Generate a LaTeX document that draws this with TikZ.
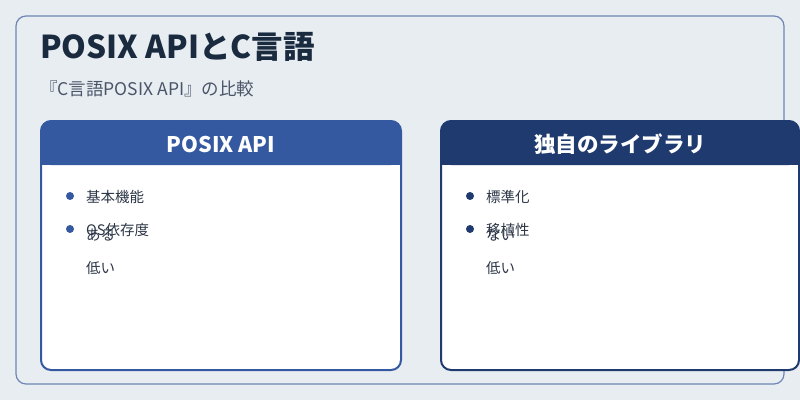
\documentclass[tikz,border=0pt]{standalone}
\usepackage{fontspec}
\setmainfont{Noto Sans CJK JP}
\definecolor{bg}{HTML}{E8EDF2}
\definecolor{frame}{HTML}{6F86B5}
\definecolor{blueA}{HTML}{3559A0}
\definecolor{blueB}{HTML}{1E3A6E}
\definecolor{txt}{HTML}{1A2A3F}
\definecolor{sub}{HTML}{4A5568}
\definecolor{body}{HTML}{2D3748}
\begin{document}
\begin{tikzpicture}[x=1pt,y=-1pt,
  lbl/.style={anchor=west,inner sep=0pt,font=\fontsize{14.5}{14.5}\selectfont,text=body},
  hdr/.style={font=\fontsize{21.5}{21.5}\selectfont\bfseries,text=white,inner sep=0pt}]
\useasboundingbox (0,0) rectangle (800,400);
\fill[bg] (0,0) rectangle (800,400);
\draw[frame,line width=1.2pt,rounded corners=10pt,fill=bg] (16,16) rectangle (784,384);
\node[anchor=west,inner sep=0pt,text=txt,font=\fontsize{31.5}{31.5}\selectfont\bfseries] (title) at (40,47) {POSIX APIとC言語};
\node[anchor=west,inner sep=0pt,text=sub,font=\fontsize{17.5}{17.5}\selectfont] (subt) at (40,89) {『C言語POSIX API』の比較};
% left card
\fill[white,rounded corners=10pt] (41,121) rectangle (401,370);
\fill[blueA,rounded corners=10pt] (41,121) rectangle (401,165);
\fill[blueA] (41,150) rectangle (401,165);
\draw[blueA,line width=2pt,rounded corners=10pt] (41,121) rectangle (401,370);
\node[hdr] (lh) at (221,144) {POSIX API};
\fill[blueA] (70,196) circle (4);
\fill[blueA] (70,229) circle (4);
\node[lbl] (l1) at (86,197) {基本機能};
\node[lbl] (l3) at (86,235) {ある};
\node[lbl] (l2) at (86,230) {OS依存度};
\node[lbl] (l4) at (86,268) {低い};
% right card
\fill[white,rounded corners=10pt] (441,121) rectangle (799,370);
\fill[blueB,rounded corners=10pt] (441,121) rectangle (799,165);
\fill[blueB] (441,150) rectangle (799,165);
\draw[blueB,line width=2pt,rounded corners=10pt] (441,121) rectangle (799,370);
\node[hdr] (rh) at (620,144) {独自のライブラリ};
\fill[blueB] (470,196) circle (4);
\fill[blueB] (470,229) circle (4);
\node[lbl] (r1) at (486,197) {標準化};
\node[lbl] (r3) at (486,235) {ない};
\node[lbl] (r2) at (486,230) {移植性};
\node[lbl] (r4) at (486,268) {低い};
\end{tikzpicture}
\end{document}
